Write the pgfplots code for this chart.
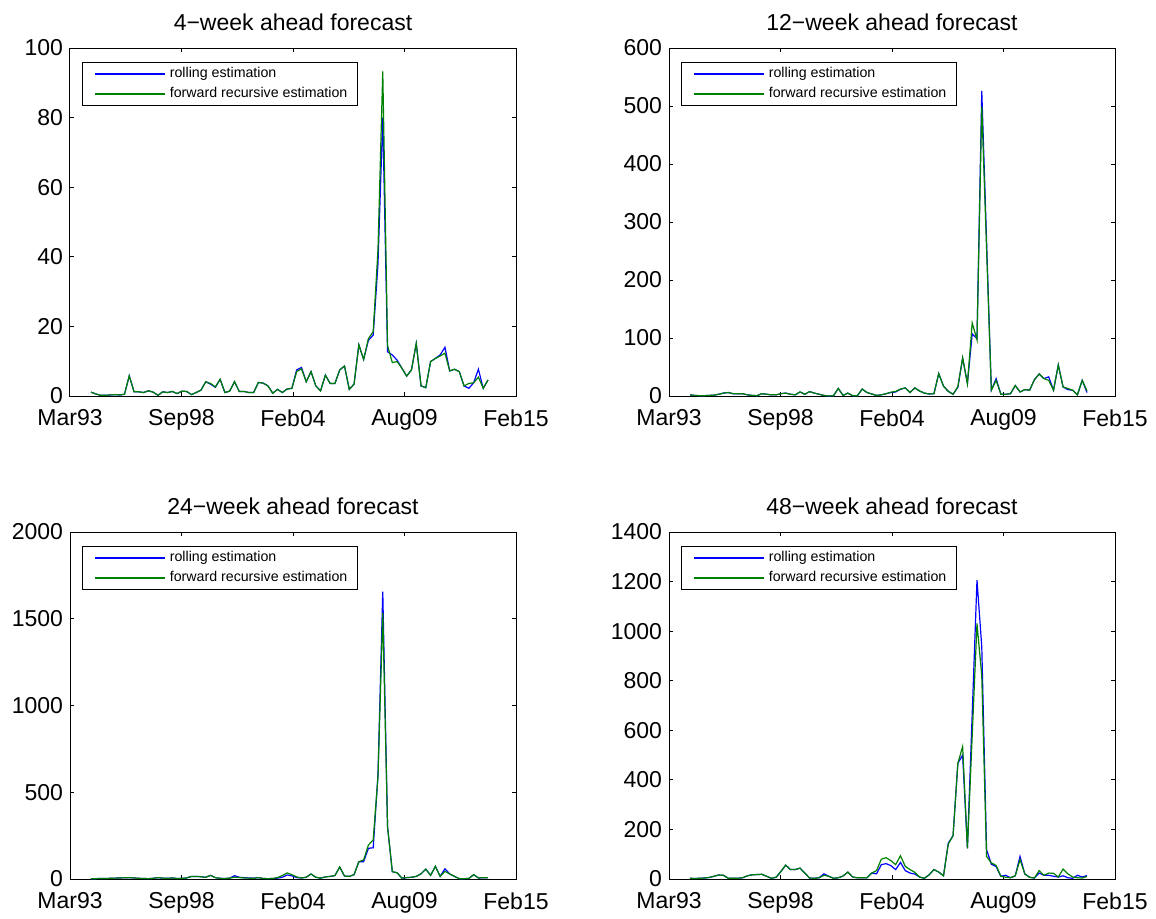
\documentclass[border=0pt]{standalone}
\usepackage{fontspec}
\setmainfont{Liberation Sans}
\usepackage{pgfplots}
\usepackage{pgfplotstable}
\pgfplotsset{compat=1.18}

\definecolor{mblue}{rgb}{0,0,1}
\definecolor{mgreen}{rgb}{0,0.5,0}

% i = forecast origin (one step ~ 12 weeks), roll / fwd = the two estimation schemes
\pgfplotstableread{
i roll fwd
0 1.1 1.1
1 0.6 0.6
2 0.2 0.2
3 0.2 0.2
4 0.3 0.3
5 0.4 0.4
6 0.3 0.3
7 0.5 0.5
8 5.8 5.8
9 1.2 1.2
10 1.2 1.2
11 1.0 1.0
12 1.5 1.5
13 1.1 1.1
14 0.2 0.2
15 1.2 1.2
16 1.0 1.0
17 1.3 1.3
18 0.7 0.7
19 1.4 1.4
20 1.3 1.3
21 0.4 0.4
22 1.0 1.0
23 1.7 1.7
24 4.1 4.1
25 3.4 3.6
26 2.5 2.6
27 4.8 4.8
28 1.0 1.0
29 1.4 1.4
30 4.1 4.1
31 1.3 1.3
32 1.3 1.3
33 1.0 1.0
34 1.0 1.0
35 3.9 3.9
36 3.7 3.7
37 2.9 2.9
38 0.8 0.8
39 1.9 1.9
40 1.0 1.0
41 2.0 2.0
42 2.2 2.2
43 7.5 7.0
44 8.2 7.8
45 4.1 4.1
46 7.0 7.0
47 2.9 2.9
48 1.5 1.5
49 6.0 6.0
50 3.6 3.6
51 3.6 3.6
52 7.5 7.5
53 8.6 8.6
54 1.9 1.9
55 3.4 3.4
56 14.7 14.7
57 10.5 10.5
58 16.0 16.5
59 17.5 18.5
60 38.0 42.0
61 80.0 93.3
62 12.7 14.5
63 11.8 9.6
64 10.3 9.9
65 8.0 8.0
66 5.7 5.7
67 7.5 7.5
68 15.1 15.1
69 2.9 2.9
70 2.4 2.4
71 9.9 9.9
72 10.8 10.8
73 11.8 11.5
74 14.0 12.3
75 7.2 7.2
76 7.7 7.7
77 7.0 7.0
78 2.9 2.9
79 2.2 3.6
80 3.8 3.8
81 7.7 5.4
82 2.2 2.2
83 4.6 4.6
}\dataA

\pgfplotstableread{
i roll fwd
0 2 2
1 1 1
2 0.5 0.5
3 0.5 0.5
4 1 1
5 1.5 1.5
6 3 3
7 5 5
8 6 6
9 4 4
10 4 4
11 4 4
12 2 2
13 1 1
14 0.5 0.5
15 4 4
16 3 3
17 2 2
18 2 2
19 4 4
20 5 5
21 3 3
22 2 2
23 7 7
24 3 3
25 7.5 7.5
26 5 5
27 3 3
28 1 1
29 0 0
30 0.5 0.5
31 13 13
32 1 1
33 5 5
34 0.5 0.5
35 0.5 0.5
36 12 12
37 6 6
38 3.5 3.5
39 1 1
40 2 2
41 4 4
42 6 6.5
43 7 8
44 11.5 12
45 14 14
46 6 6
47 14 14
48 8.6 8.6
49 5 5
50 3.5 3.5
51 4 4
52 38.6 38.6
53 17 17
54 8 8
55 3 3
56 15 16
57 65 66
58 22 21
59 107 126
60 99 97
61 526 499
62 268 255
63 10 10
64 30 27
65 3 3
66 3 3
67 4 4
68 18 18
69 7 7
70 11 11
71 10 10
72 28 28
73 38 38
74 30 30
75 33 27
76 10 10
77 53.5 53.5
78 15.5 15.5
79 11 13
80 10 10
81 2 2
82 27 27
83 6 9
}\dataB

\pgfplotstableread{
i roll fwd
0 2 2
1 2 2
2 3 3
3 3 3
4 4 4
5 5 5
6 6 6
7 7 7
8 8 8
9 6 6
10 4 4
11 3 3
12 2 2
13 4 4
14 8 8
15 5 5
16 4 4
17 6 6
18 3 3
19 4 4
20 6 6
21 15 15
22 15 15
23 13 13
24 10 10
25 21 21
26 8 8
27 4 4
28 3 3
29 5 5
30 19 10
31 10 8
32 8 6
33 6 5
34 5 4
35 8 8
36 3 3
37 2 2
38 3 3
39 5 8
40 10 20
41 23 35
42 18 25
43 8 12
44 6 6
45 10 10
46 29 29
47 10 10
48 5 5
49 12 12
50 15 15
51 20 20
52 69 69
53 17 17
54 15 15
55 25 25
56 100 100
57 100 110
58 177 196
59 180 225
60 600 590
61 1656 1533
62 301 301
63 42 42
64 36 36
65 5 5
66 8 8
67 10 10
68 15 15
69 30 30
70 57 57
71 21 21
72 73 73
73 15 15
74 59 44
75 29 29
76 15 15
77 2 2
78 2 2
79 3 3
80 25 25
81 6 6
82 7 7
83 8 8
}\dataC

\pgfplotstableread{
i roll fwd
0 3 3
1 2 2
2 3 3
3 4 4
4 6 6
5 11 11
6 16 16
7 15 15
8 3 3
9 3 3
10 3 3
11 5 5
12 13 13
13 17 17
14 18 18
15 19 19
16 11 11
17 3 3
18 7 7
19 30 30
20 56 56
21 38 38
22 38 38
23 44 44
24 24 24
25 4 4
26 3 3
27 5 5
28 21 15
29 11 11
30 3 3
31 5 5
32 12 12
33 28 28
34 8 8
35 5 5
36 5 5
37 5 5
38 24 24
39 21 34
40 58 80
41 62 86
42 54 74
43 38 58
44 67 94
45 34 51
46 24 38
47 20 27
48 8 8
49 3 3
50 17 17
51 38 38
52 28 28
53 13 13
54 145 141
55 175 175
56 467 467
57 500 534
58 124 124
59 665 578
60 1206 1031
61 937 820
62 118 91
63 60 65
64 50 55
65 11 11
66 15 7
67 5 5
68 13 13
69 91 78
70 20 20
71 7 7
72 4 4
73 24 34
74 15 15
75 15 24
76 11 23
77 8 8
78 13 40
79 5 21
80 3 8
81 15 5
82 8 4
83 14 10
}\dataD

\pgfplotsset{
  fc/.style={
    scale only axis,
    width=223pt, height=174pt,
    xmin=-4.390, xmax=88.856, ymin=0,
    xtick={-4.390,18.922,42.233,65.545,88.856},
    xticklabels={Mar93,Sep98,Feb04,Aug09,Feb15},
    tick align=inside,
    major tick length=2pt,
    tick style={black, line width=0.5pt},
    axis line style={line width=0.5pt},
    tick label style={font=\fontsize{11.5}{13}\selectfont},
    xticklabel style={yshift=-3.25pt},
    /pgf/number format/assume math mode=true,
    /pgf/number format/1000 sep={},
    scaled y ticks=false,
    title style={at={(0.5,1)}, anchor=base, yshift=3pt,
      font=\fontsize{11.5}{13}\selectfont},
    legend style={at={(0,1)}, anchor=north west, xshift=6pt, yshift=-7pt,
      draw=black, font=\fontsize{7.1}{8.5}\selectfont, cells={anchor=west},
      row sep=2.25pt, nodes={inner ysep=0.5pt}},
    legend image code/.code={\draw[#1, line width=0.85pt] (0pt,0pt) -- (35pt,0pt); \path (-3pt,0pt);},
  },
  rollline/.style={color=mblue, line width=0.6pt},
  fwdline/.style={color=mgreen, line width=0.6pt},
}

\begin{document}
\begin{tikzpicture}
\path[use as bounding box] (0pt,0pt) rectangle (578pt,459pt);

\begin{axis}[fc, at={(35pt,261pt)}, anchor=south west,
  ymax=100, ytick={0,20,...,100}, title={4−week ahead forecast}]
\addplot[rollline] table[x=i, y=roll] {\dataA};
\addplot[fwdline] table[x=i, y=fwd] {\dataA};
\legend{rolling estimation, forward recursive estimation}
\end{axis}

\begin{axis}[fc, at={(334.5pt,261pt)}, anchor=south west,
  ymax=600, ytick={0,100,...,600}, title={12−week ahead forecast}]
\addplot[rollline] table[x=i, y=roll] {\dataB};
\addplot[fwdline] table[x=i, y=fwd] {\dataB};
\legend{rolling estimation, forward recursive estimation}
\end{axis}

\begin{axis}[fc, at={(35pt,19.5pt)}, anchor=south west, height=173.5pt,
  ymax=2000, ytick={0,500,...,2000}, title={24−week ahead forecast}]
\addplot[rollline] table[x=i, y=roll] {\dataC};
\addplot[fwdline] table[x=i, y=fwd] {\dataC};
\legend{rolling estimation, forward recursive estimation}
\end{axis}

\begin{axis}[fc, at={(334.5pt,19.5pt)}, anchor=south west, height=173.5pt,
  ymax=1400, ytick={0,200,...,1400}, title={48−week ahead forecast}]
\addplot[rollline] table[x=i, y=roll] {\dataD};
\addplot[fwdline] table[x=i, y=fwd] {\dataD};
\legend{rolling estimation, forward recursive estimation}
\end{axis}
\end{tikzpicture}
\end{document}
